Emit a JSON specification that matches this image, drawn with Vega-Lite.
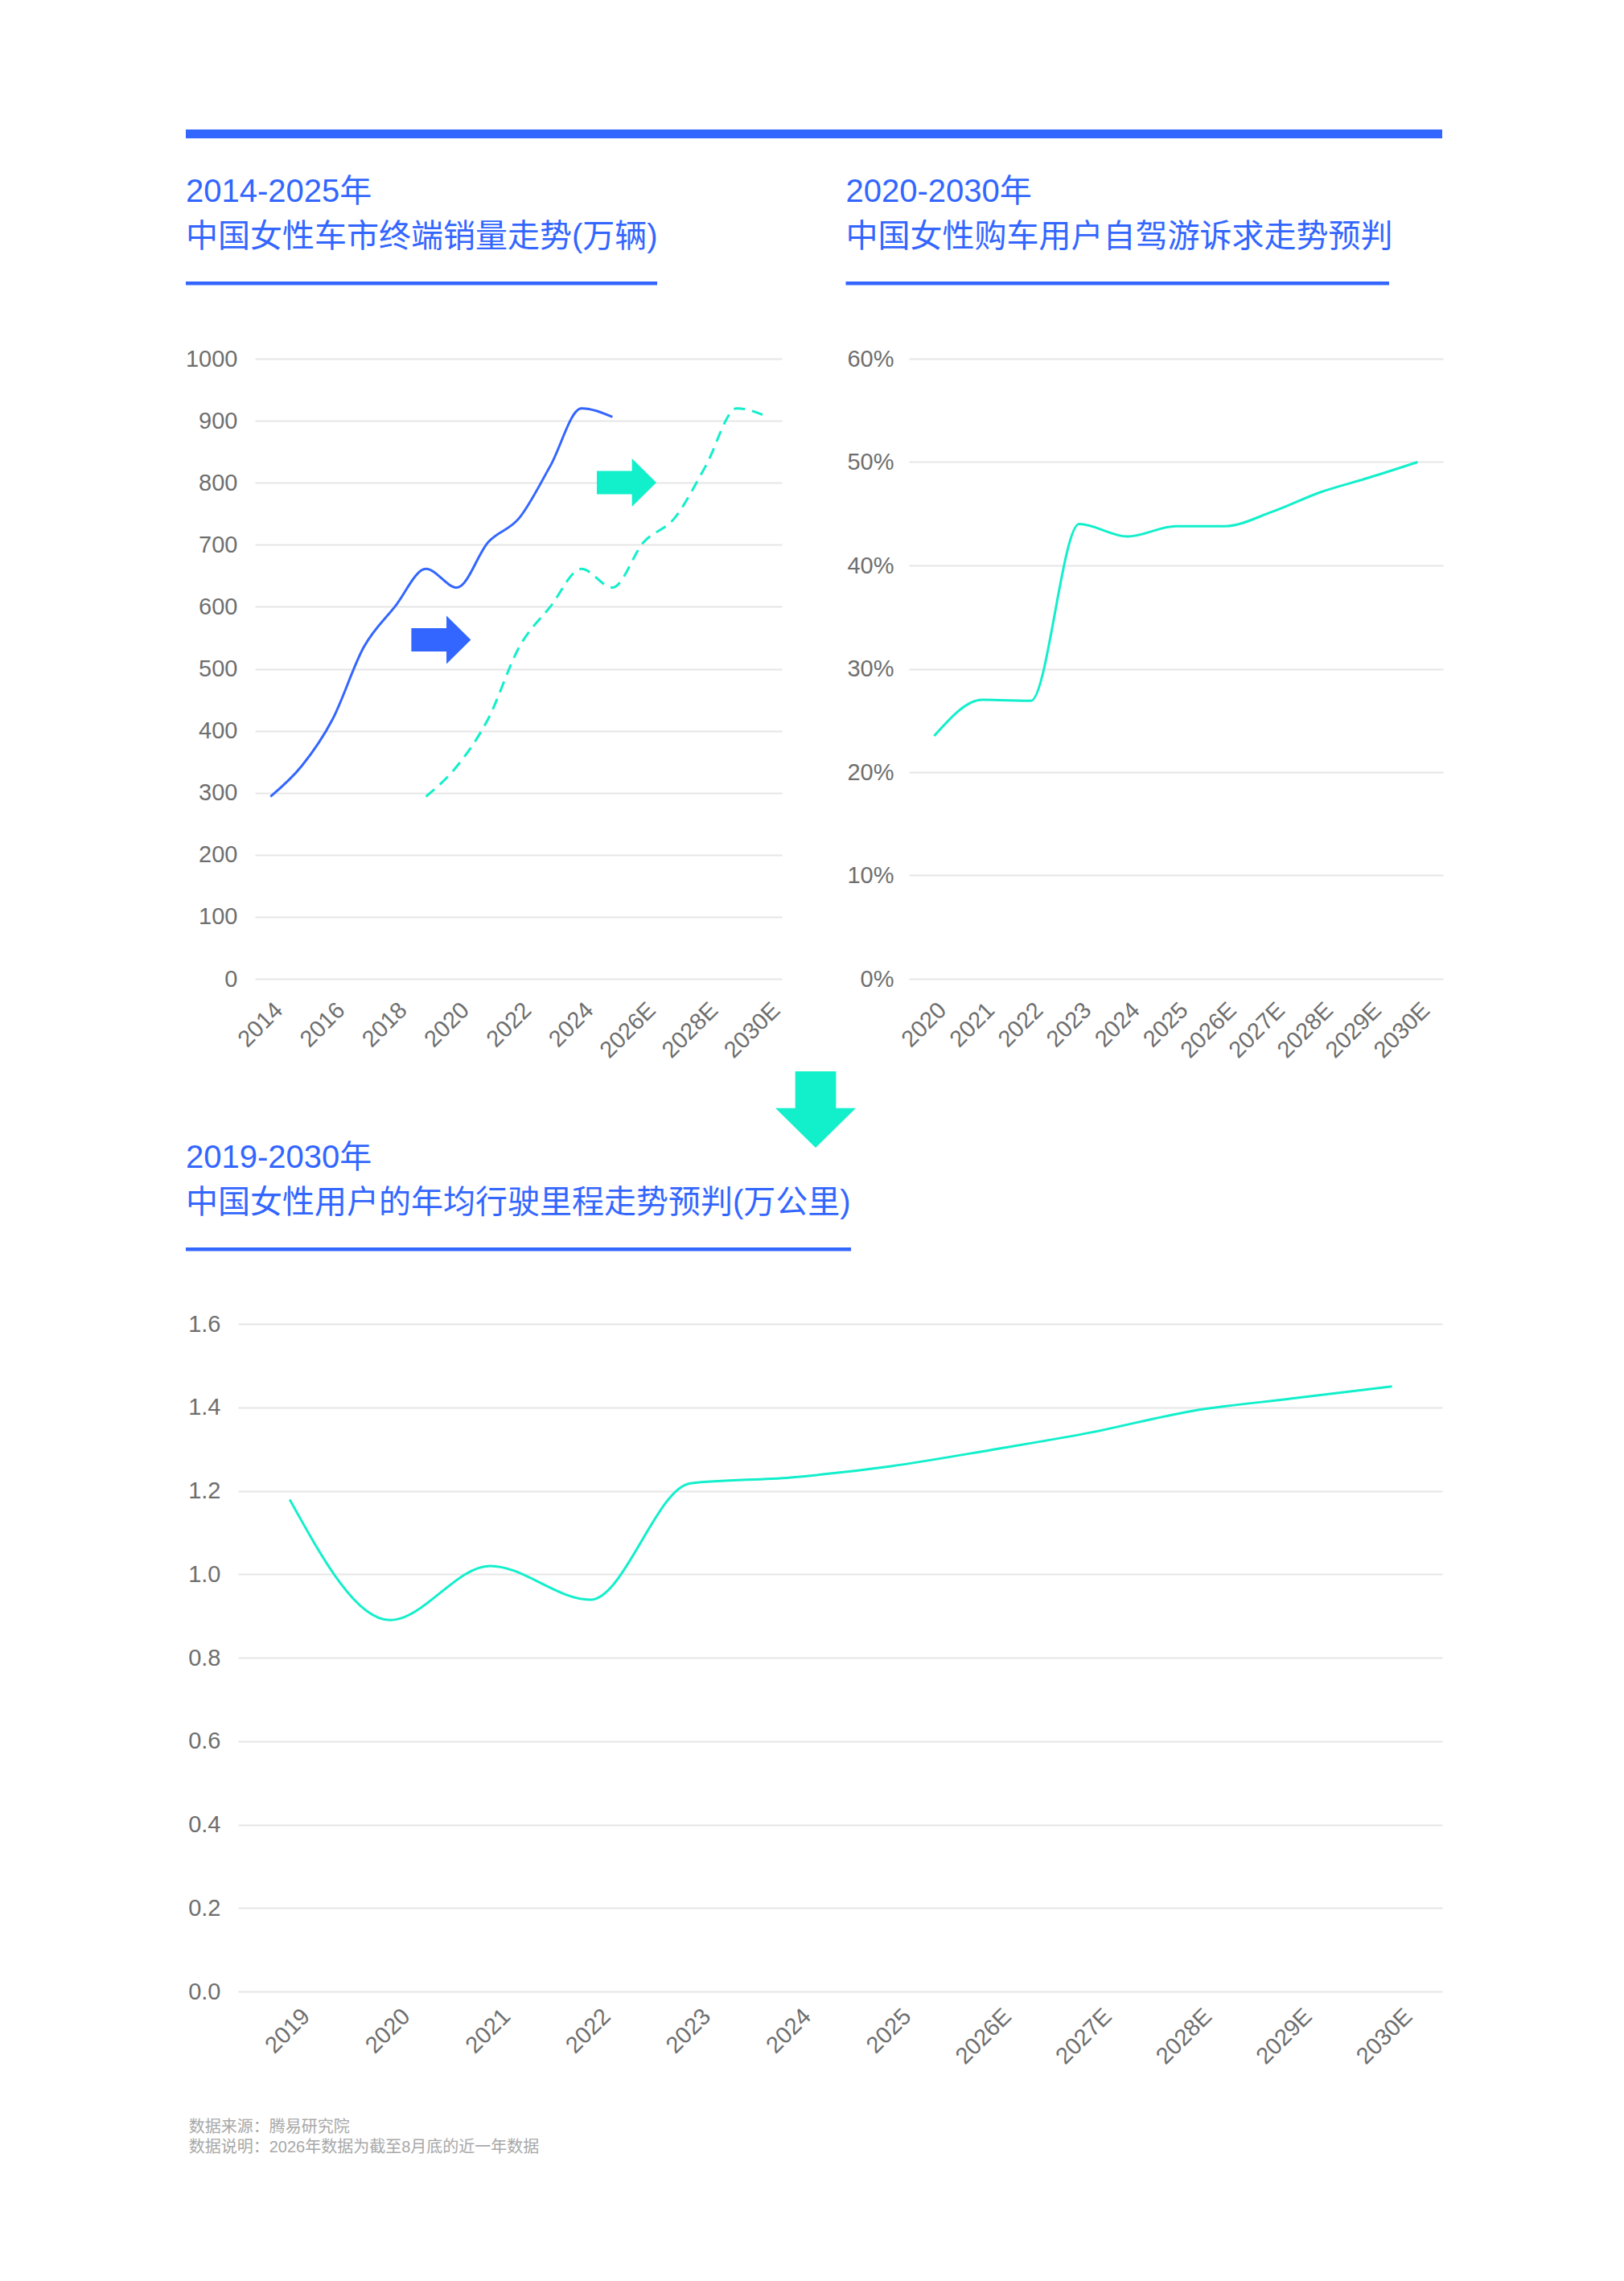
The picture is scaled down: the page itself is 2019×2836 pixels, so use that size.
{
  "$schema": "https://vega.github.io/schema/vega-lite/v6.json",
  "background": "white",
  "padding": {"left": 230, "top": 160, "right": 227, "bottom": 150},
  "config": {
    "font": "Liberation Sans, Noto Sans CJK SC",
    "view": {"stroke": null},
    "axis": {
      "domain": false,
      "ticks": false,
      "tickSize": 0,
      "gridColor": "#e6e6e6",
      "gridWidth": 2,
      "labelColor": "#6e6e6e",
      "labelFont": "Liberation Sans, Noto Sans CJK SC",
      "labelFontSize": 29
    },
    "axisX": {"grid": false, "labelAngle": -45, "labelAlign": "right", "labelBaseline": "top", "labelPadding": 24, "labelOverlap": false},
    "axisY": {"grid": true, "labelOverlap": false},
    "line": {"strokeWidth": 3, "interpolate": "monotone"},
    "text": {"font": "Liberation Sans, Noto Sans CJK SC"}
  },
  "datasets": {
    "sales": [
      {"year": 2014, "value": 294},
      {"year": 2015, "value": 343},
      {"year": 2016, "value": 419},
      {"year": 2017, "value": 535},
      {"year": 2018, "value": 600},
      {"year": 2019, "value": 661},
      {"year": 2020, "value": 631},
      {"year": 2021, "value": 704},
      {"year": 2022, "value": 743},
      {"year": 2023, "value": 827},
      {"year": 2024, "value": 920},
      {"year": 2025, "value": 906}
    ],
    "salesAhead": [
      {"year": 2019, "value": 294},
      {"year": 2020, "value": 343},
      {"year": 2021, "value": 419},
      {"year": 2022, "value": 535},
      {"year": 2023, "value": 600},
      {"year": 2024, "value": 661},
      {"year": 2025, "value": 631},
      {"year": 2026, "value": 704},
      {"year": 2027, "value": 743},
      {"year": 2028, "value": 827},
      {"year": 2029, "value": 920},
      {"year": 2030, "value": 906}
    ],
    "selfDrive": [
      {"year": 2020, "share": 0.235},
      {"year": 2021, "share": 0.270},
      {"year": 2022, "share": 0.269},
      {"year": 2023, "share": 0.440},
      {"year": 2024, "share": 0.428},
      {"year": 2025, "share": 0.438},
      {"year": 2026, "share": 0.438},
      {"year": 2027, "share": 0.452},
      {"year": 2028, "share": 0.471},
      {"year": 2029, "share": 0.485},
      {"year": 2030, "share": 0.500}
    ],
    "mileage": [
      {"year": 2019, "km": 1.179},
      {"year": 2020, "km": 0.890},
      {"year": 2021, "km": 1.020},
      {"year": 2022, "km": 0.939},
      {"year": 2023, "km": 1.218},
      {"year": 2024, "km": 1.232},
      {"year": 2025, "km": 1.259},
      {"year": 2026, "km": 1.298},
      {"year": 2027, "km": 1.340},
      {"year": 2028, "km": 1.391},
      {"year": 2029, "km": 1.421},
      {"year": 2030, "km": 1.450}
    ]
  },
  "columns": 2,
  "align": "all",
  "bounds": "flush",
  "spacing": {"row": 370, "column": 158},
  "concat": [
    {
      "width": 676,
      "height": 771,
      "layer": [
        {
          "data": {"name": "sales"},
          "mark": {"type": "line", "color": "#3366FF"},
          "encoding": {
            "x": {
              "field": "year", "type": "quantitative", "title": null,
              "scale": {"domain": [2013.5, 2030.45], "range": [21, 676], "nice": false, "zero": false},
              "axis": {
                "values": [2014, 2016, 2018, 2020, 2022, 2024, 2026, 2028, 2030],
                "format": "d",
                "labelExpr": "datum.value >= 2026 ? datum.label + 'E' : datum.label"
              }
            },
            "y": {
              "field": "value", "type": "quantitative", "title": null,
              "scale": {"domain": [0, 1000], "nice": false},
              "axis": {"values": [0, 100, 200, 300, 400, 500, 600, 700, 800, 900, 1000], "format": "d", "labelPadding": 1}
            }
          }
        },
        {
          "data": {"name": "salesAhead"},
          "mark": {"type": "line", "color": "#12EFCB", "strokeDash": [14, 9]},
          "encoding": {
            "x": {"field": "year", "type": "quantitative"},
            "y": {"field": "value", "type": "quantitative"}
          }
        },
        {
          "data": {"values": [{}]},
          "mark": {"type": "point", "shape": "M-1,-0.39L0.18,-0.39L0.18,-0.81L1,0L0.18,0.81L0.18,0.39L-1,0.39Z", "filled": true, "size": 5476, "color": "#3366FF", "opacity": 1},
          "encoding": {"x": {"datum": 2019.488}, "y": {"datum": 546.7}}
        },
        {
          "data": {"values": [{}]},
          "mark": {"type": "point", "shape": "M-1,-0.39L0.18,-0.39L0.18,-0.81L1,0L0.18,0.81L0.18,0.39L-1,0.39Z", "filled": true, "size": 5476, "color": "#12EFCB", "opacity": 1},
          "encoding": {"x": {"datum": 2025.456}, "y": {"datum": 800.3}}
        },
        {
          "data": {"values": [{}]},
          "mark": {"type": "point", "shape": "M-0.507,-0.95L0.507,-0.95L0.507,-0.036L1,-0.036L0,0.95L-1,-0.036L-0.507,-0.036Z", "filled": true, "size": 10000, "color": "#12EFCB", "opacity": 1},
          "encoding": {"x": {"datum": 2031.537}, "y": {"datum": -210.77}}
        },
        {
          "data": {"values": [{}]},
          "mark": {"type": "rect", "color": "#3366FF"},
          "encoding": {
            "x": {"datum": 2011.2745}, "x2": {"datum": 2051.696},
            "y": {"datum": 1369.65}, "y2": {"datum": 1355.38}
          }
        },
        {
          "data": {"values": [{}]},
          "mark": {"type": "text", "align": "left", "baseline": "alphabetic", "fontSize": 40, "color": "#3366FF"},
          "encoding": {"x": {"datum": 2011.2745}, "y": {"datum": 1252.92}, "text": {"value": "2014-2025年"}}
        },
        {
          "data": {"values": [{}]},
          "mark": {"type": "text", "align": "left", "baseline": "alphabetic", "fontSize": 40, "color": "#3366FF"},
          "encoding": {"x": {"datum": 2011.2745}, "y": {"datum": 1180.29}, "text": {"value": "中国女性车市终端销量走势(万辆)"}}
        },
        {
          "data": {"values": [{}]},
          "mark": {"type": "rect", "color": "#3366FF"},
          "encoding": {
            "x": {"datum": 2011.2745}, "x2": {"datum": 2026.439},
            "y": {"datum": 1124.51}, "y2": {"datum": 1118.68}
          }
        }
      ]
    },
    {
      "width": 664,
      "height": 771,
      "layer": [
        {
          "data": {"name": "selfDrive"},
          "mark": {"type": "line", "color": "#12EFCB"},
          "encoding": {
            "x": {
              "field": "year", "type": "quantitative", "title": null,
              "scale": {"domain": [2019.478, 2030.526], "nice": false, "zero": false},
              "axis": {
                "values": [2020, 2021, 2022, 2023, 2024, 2025, 2026, 2027, 2028, 2029, 2030],
                "format": "d",
                "labelExpr": "datum.value >= 2026 ? datum.label + 'E' : datum.label"
              }
            },
            "y": {
              "field": "share", "type": "quantitative", "title": null,
              "scale": {"domain": [0, 0.6], "nice": false},
              "axis": {"values": [0, 0.1, 0.2, 0.3, 0.4, 0.5, 0.6], "format": ".0%", "labelPadding": 19}
            }
          }
        },
        {
          "data": {"values": [{}]},
          "mark": {"type": "text", "align": "left", "baseline": "alphabetic", "fontSize": 40, "color": "#3366FF"},
          "encoding": {"x": {"datum": 2018.172}, "y": {"datum": 0.75175}, "text": {"value": "2020-2030年"}}
        },
        {
          "data": {"values": [{}]},
          "mark": {"type": "text", "align": "left", "baseline": "alphabetic", "fontSize": 40, "color": "#3366FF"},
          "encoding": {"x": {"datum": 2018.172}, "y": {"datum": 0.70817}, "text": {"value": "中国女性购车用户自驾游诉求走势预判"}}
        },
        {
          "data": {"values": [{}]},
          "mark": {"type": "rect", "color": "#3366FF"},
          "encoding": {
            "x": {"datum": 2018.172}, "x2": {"datum": 2029.411},
            "y": {"datum": 0.67471}, "y2": {"datum": 0.67121}
          }
        }
      ]
    },
    {
      "width": 676,
      "height": 830,
      "layer": [
        {
          "data": {"name": "mileage"},
          "mark": {"type": "line", "color": "#12EFCB"},
          "encoding": {
            "x": {
              "field": "year", "type": "quantitative", "title": null,
              "scale": {"domain": [2018.485, 2030.501], "range": [0, 1497], "nice": false, "zero": false},
              "axis": {
                "values": [2019, 2020, 2021, 2022, 2023, 2024, 2025, 2026, 2027, 2028, 2029, 2030],
                "format": "d",
                "labelPadding": 16,
                "labelOffset": 10,
                "labelExpr": "datum.value >= 2026 ? datum.label + 'E' : datum.label"
              }
            },
            "y": {
              "field": "km", "type": "quantitative", "title": null,
              "scale": {"domain": [0, 1.6], "nice": false},
              "axis": {"values": [0, 0.2, 0.4, 0.6, 0.8, 1.0, 1.2, 1.4, 1.6], "format": ".1f", "labelPadding": 22}
            }
          }
        },
        {
          "data": {"values": [{}]},
          "mark": {"type": "text", "align": "left", "baseline": "alphabetic", "fontSize": 40, "color": "#3366FF"},
          "encoding": {"x": {"datum": 2017.963}, "y": {"datum": 1.97398}, "text": {"value": "2019-2030年"}}
        },
        {
          "data": {"values": [{}]},
          "mark": {"type": "text", "align": "left", "baseline": "alphabetic", "fontSize": 40, "color": "#3366FF"},
          "encoding": {"x": {"datum": 2017.963}, "y": {"datum": 1.86602}, "text": {"value": "中国女性用户的年均行驶里程走势预判(万公里)"}}
        },
        {
          "data": {"values": [{}]},
          "mark": {"type": "rect", "color": "#3366FF"},
          "encoding": {
            "x": {"datum": 2017.963}, "x2": {"datum": 2024.6015},
            "y": {"datum": 1.78313}, "y2": {"datum": 1.77446}
          }
        },
        {
          "data": {"values": [{}]},
          "mark": {"type": "text", "align": "left", "baseline": "alphabetic", "fontSize": 20, "color": "#a8a8a8"},
          "encoding": {"x": {"datum": 2017.993}, "y": {"datum": -0.33735}, "text": {"value": "数据来源：腾易研究院"}}
        },
        {
          "data": {"values": [{}]},
          "mark": {"type": "text", "align": "left", "baseline": "alphabetic", "fontSize": 20, "color": "#a8a8a8"},
          "encoding": {"x": {"datum": 2017.993}, "y": {"datum": -0.38554}, "text": {"value": "数据说明：2026年数据为截至8月底的近一年数据"}}
        }
      ]
    }
  ]
}
